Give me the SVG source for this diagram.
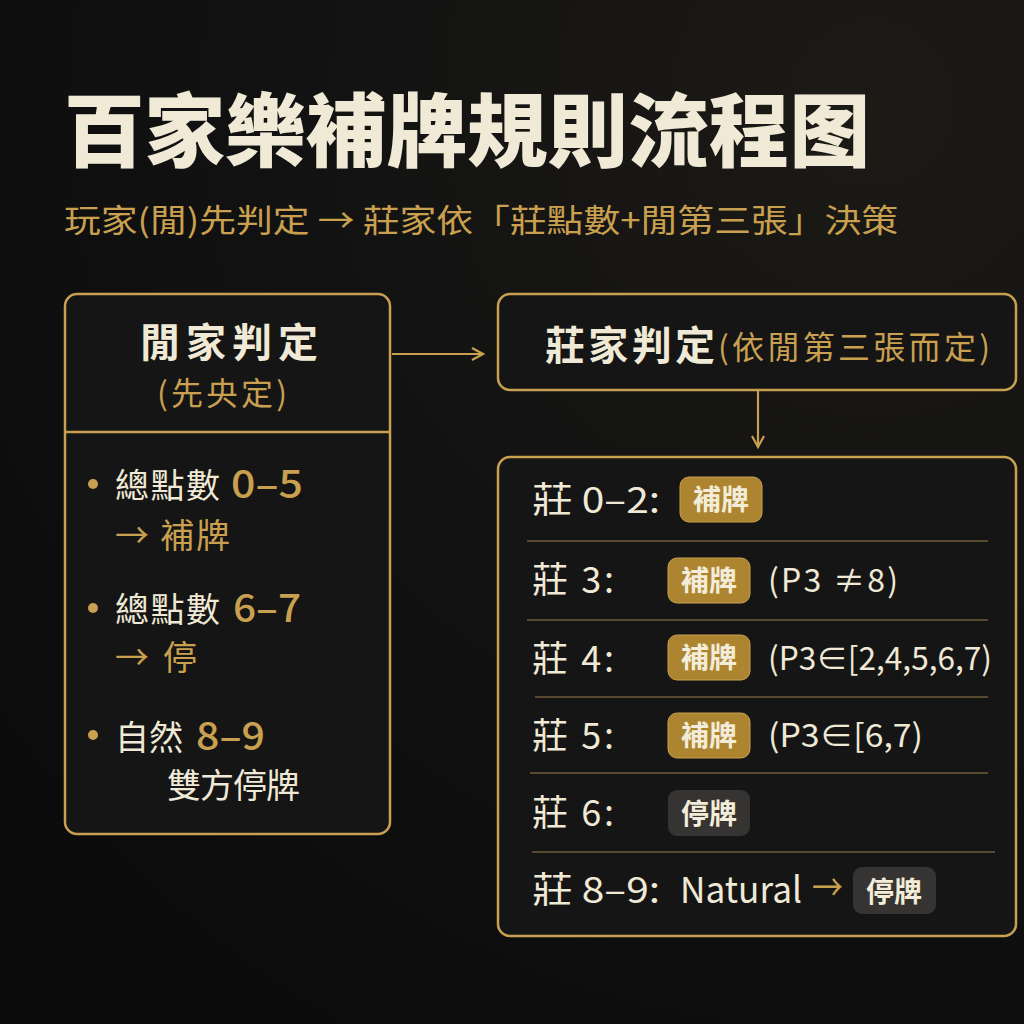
<svg xmlns="http://www.w3.org/2000/svg" width="1024" height="1024" viewBox="0 0 1024 1024">
<defs>
<radialGradient id="bg" cx="0.85" cy="0.1" r="1.1">
<stop offset="0" stop-color="#1c1a16"/>
<stop offset="0.5" stop-color="#121212"/>
<stop offset="1" stop-color="#0b0b0b"/>
</radialGradient>
<marker id="arr" markerWidth="14" markerHeight="14" refX="12" refY="7" orient="auto" markerUnits="userSpaceOnUse">
<path d="M1,1 L12,7 L1,13" fill="none" stroke="#c9a050" stroke-width="2.2"/>
</marker>
<style>
.box{fill:#151515;stroke:#c9a050;stroke-width:2.5}
.cjk{font-family:"Noto Sans CJK TC","Noto Sans CJK SC",sans-serif}
.cream{fill:#efe9d6}
.gold{fill:#c9a050}
.div{stroke:#6e5d3a;stroke-width:1.5}
.row{font-size:36px}
.par{font-size:32px}
.num{font-size:38px;font-weight:500}
.bgold{fill:#ad8530;stroke:#c9a050;stroke-width:1}
.bdark{fill:#363432}
.btxt{font-size:28px;font-weight:700;fill:#f3ecd8;text-anchor:middle}
.conn{stroke:#c9a050;stroke-width:2.2;fill:none}
</style>
</defs>
<rect width="1024" height="1024" fill="url(#bg)"/>

<g id="title" class="cjk">
<text x="64" y="160" font-size="80" font-weight="900" class="cream" textLength="806" lengthAdjust="spacingAndGlyphs">百家樂補牌規則流程图</text>
<text x="64" y="232" font-size="32" class="gold" textLength="834" lengthAdjust="spacingAndGlyphs">玩家(閒)先判定 → 莊家依「莊點數+閒第三張」決策</text>
</g>

<g id="player" class="cjk">
<rect class="box" x="65" y="294" width="325" height="540" rx="12"/>
<line x1="66" y1="432" x2="389" y2="432" stroke="#c9a050" stroke-width="2.5"/>
<text x="140" y="357" font-size="40" font-weight="700" class="cream" textLength="178" lengthAdjust="spacing">閒家判定</text>
<text x="157" y="405" font-size="32" class="gold" textLength="130" lengthAdjust="spacing">(先央定)</text>
<circle cx="93" cy="484" r="5" class="gold"/>
<text x="115" y="498" font-size="34" class="cream" textLength="105" lengthAdjust="spacing">總點數</text>
<text x="231" y="498" class="num gold" textLength="72" lengthAdjust="spacingAndGlyphs">0–5</text>
<text x="115" y="548" font-size="34" class="gold" textLength="115" lengthAdjust="spacing">→ 補牌</text>
<circle cx="93" cy="608" r="5" class="gold"/>
<text x="115" y="622" font-size="34" class="cream" textLength="105" lengthAdjust="spacing">總點數</text>
<text x="233" y="622" class="num gold" textLength="68" lengthAdjust="spacingAndGlyphs">6–7</text>
<text x="115" y="670" font-size="34" class="gold" textLength="82" lengthAdjust="spacing">→ 停</text>
<circle cx="93" cy="735" r="5" class="gold"/>
<text x="115" y="750" font-size="34" class="cream" textLength="68" lengthAdjust="spacing">自然</text>
<text x="196" y="750" class="num gold" textLength="69" lengthAdjust="spacingAndGlyphs">8–9</text>
<text x="167" y="798" font-size="34" class="cream" textLength="133" lengthAdjust="spacing">雙方停牌</text>
</g>

<g id="banker-head" class="cjk">
<rect class="box" x="498" y="294" width="518" height="96" rx="12"/>
<text x="545" y="360" font-size="40" font-weight="700" class="cream" textLength="170" lengthAdjust="spacing">莊家判定</text>
<text x="718" y="359" font-size="32" class="gold" textLength="272" lengthAdjust="spacing">(依閒第三張而定)</text>
</g>

<g id="banker-rules" class="cjk">
<rect class="box" x="498" y="457" width="518" height="479" rx="12"/>
<line class="div" x1="527" y1="541" x2="988" y2="541"/>
<line class="div" x1="527" y1="620" x2="988" y2="620"/>
<line class="div" x1="535" y1="697" x2="988" y2="697"/>
<line class="div" x1="530" y1="773" x2="988" y2="773"/>
<line class="div" x1="532" y1="852" x2="995" y2="852"/>

<text x="532" y="513" class="row cream" textLength="128" lengthAdjust="spacingAndGlyphs">莊 0–2:</text>
<rect class="bgold" x="680" y="477" width="82" height="45" rx="9"/>
<text x="721" y="510" class="btxt">補牌</text>

<text x="532" y="593" class="row cream" textLength="82" lengthAdjust="spacing">莊 3:</text>
<rect class="bgold" x="668" y="558" width="82" height="45" rx="9"/>
<text x="709" y="591" class="btxt">補牌</text>
<text x="768" y="592" class="par cream" textLength="130" lengthAdjust="spacing">(P3 ≠8)</text>

<text x="532" y="672" class="row cream" textLength="82" lengthAdjust="spacing">莊 4:</text>
<rect class="bgold" x="668" y="635" width="82" height="45" rx="9"/>
<text x="709" y="668" class="btxt">補牌</text>
<text x="768" y="670" class="par cream" textLength="224" lengthAdjust="spacingAndGlyphs">(P3∈[2,4,5,6,7)</text>

<text x="532" y="749" class="row cream" textLength="82" lengthAdjust="spacing">莊 5:</text>
<rect class="bgold" x="668" y="713" width="82" height="45" rx="9"/>
<text x="709" y="746" class="btxt">補牌</text>
<text x="768" y="747" class="par cream" textLength="155" lengthAdjust="spacingAndGlyphs">(P3∈[6,7)</text>

<text x="532" y="826" class="row cream" textLength="82" lengthAdjust="spacing">莊 6:</text>
<rect class="bdark" x="668" y="790" width="82" height="46" rx="9"/>
<text x="709" y="824" class="btxt">停牌</text>

<text x="532" y="903" class="row cream" textLength="128" lengthAdjust="spacingAndGlyphs">莊 8–9:</text>
<text x="680" y="903" class="row cream" textLength="122" lengthAdjust="spacingAndGlyphs">Natural</text>
<text x="812" y="901" class="row gold" textLength="31" lengthAdjust="spacingAndGlyphs">→</text>
<rect class="bdark" x="853" y="867" width="83" height="47" rx="9"/>
<text x="894" y="902" class="btxt">停牌</text>
</g>

<g id="connectors">
<line class="conn" x1="392" y1="354" x2="483" y2="354" marker-end="url(#arr)"/>
<line class="conn" x1="758" y1="391" x2="758" y2="447" marker-end="url(#arr)"/>
</g>
</svg>
